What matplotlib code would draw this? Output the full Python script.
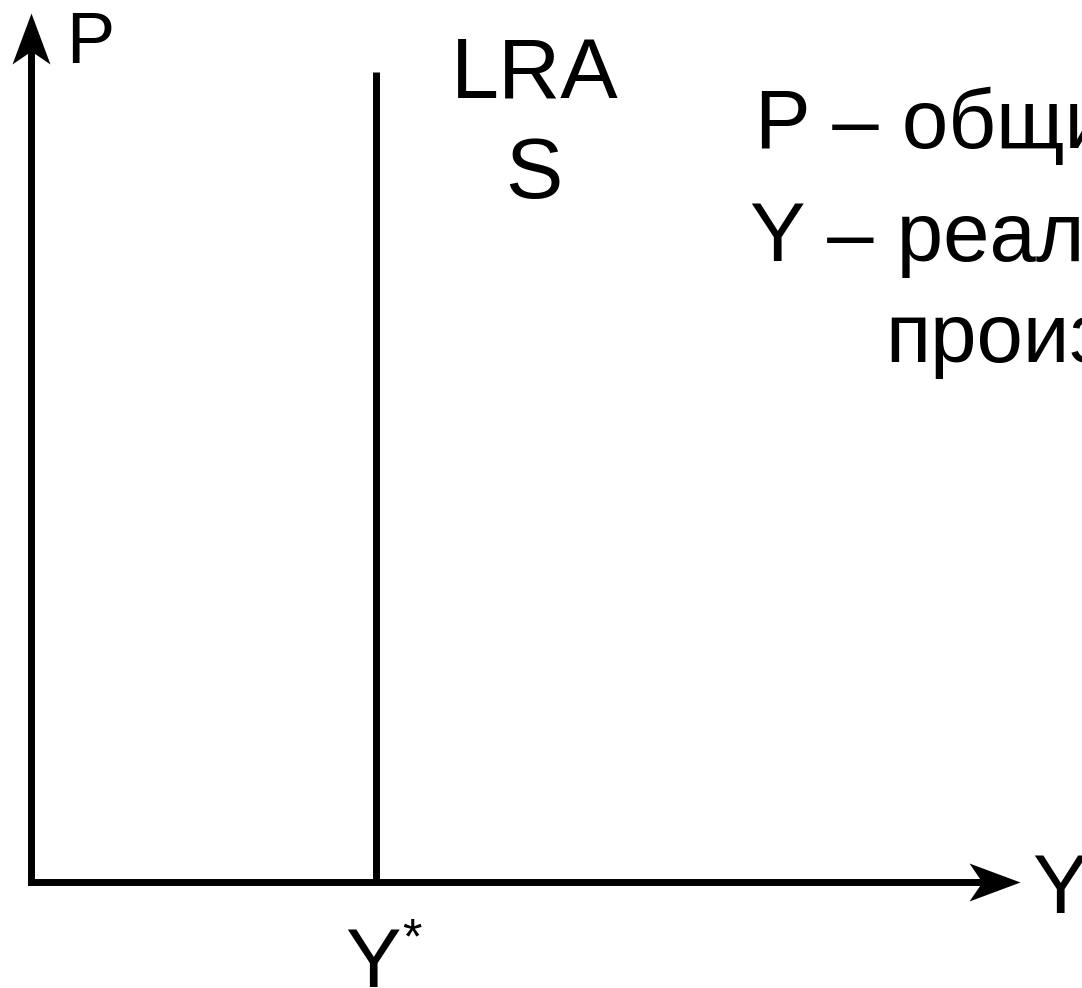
import matplotlib
matplotlib.use("Agg")
import matplotlib.pyplot as plt
from matplotlib.path import Path

plt.rcParams['font.family'] = ['Liberation Sans', 'DejaVu Sans']

W, H = 1082, 988

# model: output (Y) on x, price level (P) on y, arbitrary units 0..10
x_axis = [0, 10]
y_axis = [0, 10]
y_star = 3.49        # long-run potential output
lras_top = 9.32      # top end of the LRAS line

legend_lines = ["P – общий уровень цен", "Y – реальный объём", "производства"]


def px(x, y):
    # pixel position (from top-left) -> figure fraction
    return x / W, 1 - y / H


fig = plt.figure(figsize=(W / 100, H / 100), dpi=100)
ax = fig.add_axes([31 / W, (H - 882) / H, (1020 - 31) / W, (882 - 13) / H])
ax.set_xlim(x_axis)
ax.set_ylim(y_axis)
ax.axis('off')

lw = 5
# axes lines
ax.plot([x_axis[0], x_axis[1] - 0.3], [0, 0], color='black', lw=lw,
        solid_capstyle='projecting', clip_on=False)
ax.plot([0, 0], [y_axis[0], y_axis[1] - 0.3], color='black', lw=lw,
        solid_capstyle='projecting', clip_on=False)

# stealth arrowheads
right_head = Path([(0, 0), (-51, 19), (-38, 0), (-51, -19), (0, 0)],
                  [Path.MOVETO, Path.LINETO, Path.LINETO, Path.LINETO, Path.CLOSEPOLY])
up_head = Path([(0, 0), (-19, -51), (0, -38), (19, -51), (0, 0)],
               [Path.MOVETO, Path.LINETO, Path.LINETO, Path.LINETO, Path.CLOSEPOLY])
ms = 102 / 100 * 72
ax.plot([x_axis[1]], [0], marker=right_head, markersize=ms, color='black',
        markeredgewidth=0, clip_on=False)
ax.plot([0], [y_axis[1]], marker=up_head, markersize=ms, color='black',
        markeredgewidth=0, clip_on=False)

# LRAS
ax.plot([y_star, y_star], [0, lras_top], color='black', lw=lw, solid_capstyle='butt')

# labels
fig.text(*px(66, 63), "P", fontsize=52, va='baseline', ha='left')
fig.text(*px(1032, 913), "Y", fontsize=60, va='baseline', ha='left')
fig.text(*px(345, 987), "Y", fontsize=60, va='baseline', ha='left')
fig.text(*px(402, 953), "*", fontsize=36, va='baseline', ha='left')
fig.text(*px(535, 98), "LRA", fontsize=62, va='baseline', ha='center')
fig.text(*px(534, 198), "S", fontsize=62, va='baseline', ha='center')

fig.text(*px(755, 148), legend_lines[0], fontsize=60, va='baseline', ha='left')
fig.text(*px(750, 261), legend_lines[1], fontsize=60, va='baseline', ha='left')
fig.text(*px(885, 362), legend_lines[2], fontsize=60, va='baseline', ha='left')

fig.savefig("out.png", dpi=100, facecolor='white')
